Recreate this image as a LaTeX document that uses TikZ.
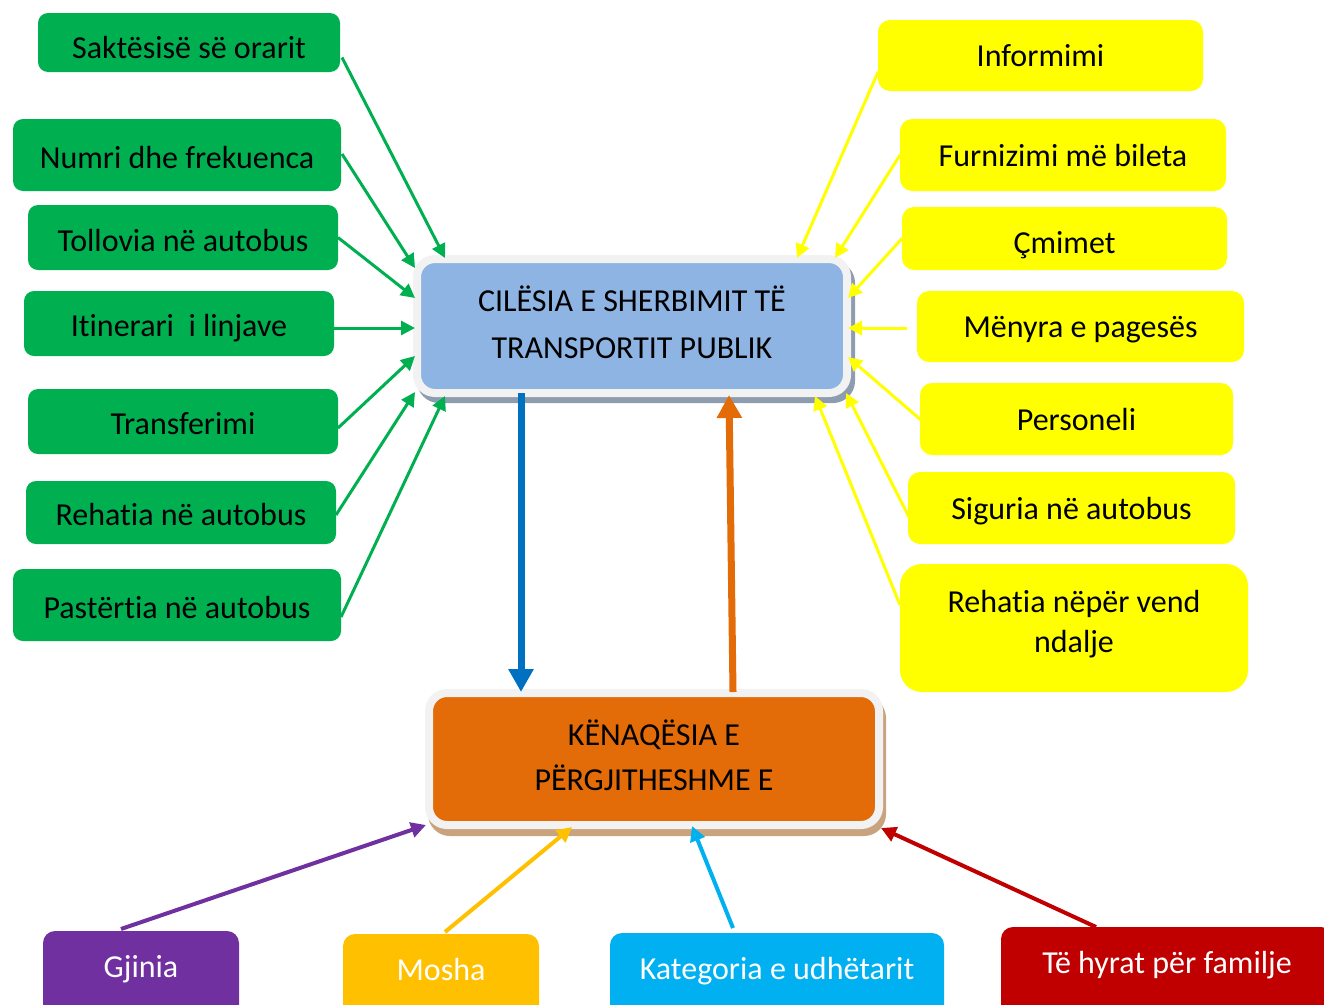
\documentclass[tikz,border=0pt]{standalone}
\usepackage{fontspec}
\setmainfont{Carlito}[Ligatures={NoCommon},RawFeature={-liga;-clig;-dlig}]
\usetikzlibrary{arrows.meta,calc}
\definecolor{grn}{HTML}{00B050}
\definecolor{ylw}{HTML}{FFFF00}
\definecolor{boxblue}{HTML}{8EB4E3}
\definecolor{frame}{HTML}{F2F2F2}
\definecolor{shblue}{HTML}{8E9CB0}
\definecolor{boxorange}{HTML}{E36C09}
\definecolor{shtan}{HTML}{C9A27E}
\definecolor{arblue}{HTML}{0070C0}
\definecolor{purp}{HTML}{7030A0}
\definecolor{gold}{HTML}{FFC000}
\definecolor{cyan}{HTML}{00B0F0}
\definecolor{dred}{HTML}{C00000}
\begin{document}
\begin{tikzpicture}[x=1pt,y=-1pt,
  every node/.style={font=\fontsize{32pt}{39pt}\selectfont, inner sep=0pt, outer sep=0pt},
  gbox/.style={fill=grn, rounded corners=10pt, text height=28pt, text depth=2pt},
  ybox/.style={fill=ylw, rounded corners=12pt, text height=26pt, text depth=4pt},
  bbox/.style={rounded corners=12pt, text=white, text height=46.5pt, text depth=43.5pt, anchor=north},
  mainbox/.style={draw=frame, line width=8pt, rounded corners=18pt, outer sep=4pt},
  boxtext/.style={align=center, yshift=4pt},
  garrow/.style={draw=grn, line width=3pt, -{Triangle[length=14pt,width=14pt]}},
  yarrow/.style={draw=ylw, line width=3pt, -{Triangle[length=14pt,width=14pt]}},
  barrow/.style={line width=4pt, -{Triangle[length=15pt,width=15pt]}},
  bigarrow/.style={line width=7pt, -{Triangle[length=23pt,width=24pt]}}
]
\clip (0,0) rectangle (1324,1004);

% central boxes
\node[mainbox, fill=boxblue, minimum width=430pt, minimum height=134pt,
  preaction={draw=shblue, fill=shblue, transform canvas={xshift=4pt, yshift=-6pt}},
  label={[boxtext, font=\fontsize{32pt}{47pt}\selectfont]center:CILËSIA E SHERBIMIT TË\\TRANSPORTIT PUBLIK}]
  (c) at (632,326) {};
\node[mainbox, fill=boxorange, minimum width=450pt, minimum height=132pt,
  preaction={draw=shtan, fill=shtan, transform canvas={xshift=3pt, yshift=-7pt}},
  label={[boxtext, font=\fontsize{32pt}{45pt}\selectfont]center:KËNAQËSIA E\\PËRGJITHESHME E}]
  (k) at (654,759) {};

% green boxes
\node[gbox, minimum width=302pt, minimum height=59pt, text height=34pt] (g1) at (189,42.5) {Saktësisë së orarit};
\node[gbox, minimum width=328pt, minimum height=72pt] (g2) at (177,155) {Numri dhe frekuenca};
\node[gbox, minimum width=310pt, minimum height=65pt, text height=30pt] (g3) at (183,237.5) {Tollovia në autobus};
\node[gbox, minimum width=310pt, minimum height=65pt] (g4) at (179,323.5) {Itinerari~ i linjave};
\node[gbox, minimum width=310pt, minimum height=65pt] (g5) at (183,421.5) {Transferimi};
\node[gbox, minimum width=310pt, minimum height=63pt] (g6) at (181,512.5) {Rehatia në autobus};
\node[gbox, minimum width=328pt, minimum height=72pt] (g7) at (177,605) {Pastërtia në autobus};

% yellow boxes
\node[ybox, minimum width=325pt, minimum height=71pt] (y1) at (1040.5,55.5) {Informimi};
\node[ybox, minimum width=326pt, minimum height=72pt] (y2) at (1063,155) {Furnizimi më bileta};
\node[ybox, minimum width=325pt, minimum height=63pt, text height=32pt, text depth=2pt] (y3) at (1064.5,238.5) {Çmimet};
\node[ybox, minimum width=327pt, minimum height=71pt] (y4) at (1080.5,326.5) {Mënyra e pagesës};
\node[ybox, minimum width=313pt, minimum height=72pt] (y5) at (1076.5,419) {Personeli};
\node[ybox, minimum width=327pt, minimum height=72pt] (y6) at (1071.5,508) {Siguria në autobus};
\node[fill=ylw, rounded corners=22pt, minimum width=348pt, minimum height=128pt,
  label={[boxtext, font=\fontsize{32pt}{40pt}\selectfont]center:Rehatia nëpër vend\\ndalje}]
  (y7) at (1074,628) {};

% bottom boxes
\node[bbox, fill=purp, minimum width=196pt] (b1) at (141,931) {Gjinia};
\node[bbox, fill=gold, minimum width=196pt] (b2) at (441,934) {Mosha};
\node[bbox, fill=cyan, minimum width=334pt] (b3) at (777,933) {Kategoria e udhëtarit};
\node[bbox, fill=dred, minimum width=332pt] (b4) at (1167,927) {Të hyrat për familje};

% green arrows
\draw[garrow] ($(g1.east)+(2,15)$) -- ($(c.north west)+(32,3)$);
\draw[garrow] ($(g2.east)+(1,-1)$) -- ($(c.north west)+(2,13)$);
\draw[garrow] (g3.east) -- ($(c.west)+(2,-28)$);
\draw[garrow] ($(g4.east)+(0,4.5)$) -- ($(c.west)+(2,2)$);
\draw[garrow] ($(g5.east)+(0,6.5)$) -- ($(c.west)+(2,30)$);
\draw[garrow] ($(g6.east)+(0,2.5)$) -- ($(c.south west)+(2,-5)$);
\draw[garrow] ($(g7.east)+(0,12)$) -- ($(c.south west)+(32,-1)$);

% yellow arrows
\draw[yarrow] ($(y1.west)+(0,16.5)$) -- ($(c.north east)+(-54,3)$);
\draw[yarrow] (y2.west) -- ($(c.north east)+(-16,3)$);
\draw[yarrow] (y3.west) -- ($(c.east)+(-3,-28)$);
\draw[yarrow] ($(y4.west)+(-10,1.5)$) -- ($(c.east)+(-3,2)$);
\draw[yarrow] ($(y5.west)+(1,1)$) -- ($(c.east)+(-3,31)$);
\draw[yarrow] ($(y6.west)+(1,9)$) -- ($(c.south east)+(-5,-4)$);
\draw[yarrow] ($(y7.west)+(0,-23)$) -- ($(c.south east)+(-36,-1)$);

% main arrows
\draw[bigarrow, arblue] ($(c.south west)+(108,-4)$) -- ($(k.north west)+(96,3)$);
\draw[bigarrow, boxorange] ($(k.north west)+(308,3)$) -- ($(c.south west)+(316,-2)$);

% bottom arrows
\draw[barrow, purp] ($(b1.north)+(-20,-2)$) -- ($(k.south west)+(1,-4)$);
\draw[barrow, gold] ($(b2.north)+(4,-2)$) -- ($(k.south west)+(147,-2)$);
\draw[barrow, cyan] ($(b3.north)+(-44,-5)$) -- ($(k.south west)+(267,-3)$);
\draw[barrow, dred] ($(b4.north)+(-71,0)$) -- ($(k.south east)+(-2,-1)$);
\end{tikzpicture}
\end{document}
